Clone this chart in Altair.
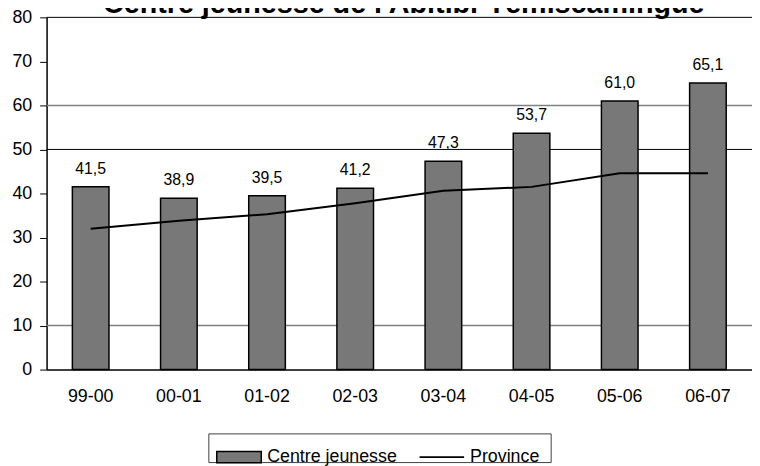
import altair as alt
import pandas as pd

periods = ["99-00", "00-01", "01-02", "02-03", "03-04", "04-05", "05-06", "06-07"]
centre = [41.5, 38.9, 39.5, 41.2, 47.3, 53.7, 61.0, 65.1]
province = [32.0, 33.8, 35.3, 37.8, 40.6, 41.5, 44.6, 44.6]
y_ticks = [0, 10, 20, 30, 40, 50, 60, 70, 80]
grid_black = [80, 50]
grid_gray = [60, 10]
title_text = "Centre jeunesse de l'Abitibi-Témiscamingue"
series_bar = "Centre jeunesse"
series_line = "Province"

FONT = "Liberation Sans"
W, H = 713, 356

df = pd.DataFrame({
    "period": periods,
    "centre": centre,
    "province": province,
    "label": [f"{v:.1f}".replace(".", ",") for v in centre],
    "s1": series_bar,
    "s2": series_line,
})

x_enc = alt.X(
    "period:N", sort=periods,
    scale=alt.Scale(paddingInner=0.58, paddingOuter=0.29),
    axis=alt.Axis(title=None, labelAngle=0, ticks=False, domainColor="black",
                  domainWidth=1.5, labelFontSize=18, labelFont=FONT,
                  labelColor="black", labelPadding=18),
)
y_scale = alt.Scale(domain=[0, 80], nice=False, zero=True)
y_axis = alt.Axis(values=y_ticks, title=None, grid=False, tickSize=7,
                  tickColor="black", domainColor="black", domainWidth=1.5,
                  labelFontSize=18, labelFont=FONT, labelColor="black",
                  labelPadding=8)

base = alt.Chart(df)

grid_g = alt.Chart(pd.DataFrame({"v": grid_gray})).mark_rule(
    color="#808080", strokeWidth=1.5).encode(y=alt.Y("v:Q", scale=y_scale, axis=y_axis))
grid_b = alt.Chart(pd.DataFrame({"v": grid_black})).mark_rule(
    color="black", strokeWidth=1).encode(y=alt.Y("v:Q", scale=y_scale, axis=y_axis))

bars = base.mark_bar(size=37, stroke="black", strokeWidth=1.5).encode(
    x=x_enc,
    y=alt.Y("centre:Q", scale=y_scale, axis=y_axis),
    fill=alt.Fill("s1:N", scale=alt.Scale(domain=[series_bar], range=["#787878"]),
                  legend=alt.Legend(title=None, orient="none", legendX=171, legendY=421,
                                    symbolType="M-1,-0.25H1V0.25H-1Z", symbolSize=2025,
                                    symbolStrokeColor="black", symbolStrokeWidth=1.5,
                                    labelFontSize=18, labelFont=FONT, labelColor="black",
                                    labelOffset=5, padding=0)),
)

labels = base.mark_text(dy=-13, baseline="alphabetic", fontSize=16, font=FONT,
                        color="black").encode(
    x=x_enc, y=alt.Y("centre:Q", scale=y_scale, axis=y_axis), text="label:N")

line = base.mark_line(strokeWidth=2).encode(
    x=x_enc,
    y=alt.Y("province:Q", scale=y_scale, axis=y_axis),
    stroke=alt.Stroke("s2:N", scale=alt.Scale(domain=[series_line], range=["black"]),
                      legend=alt.Legend(title=None, orient="none", legendX=376, legendY=421,
                                        symbolType="stroke", symbolSize=2025,
                                        symbolStrokeWidth=2,
                                        labelFontSize=18, labelFont=FONT,
                                        labelColor="black", labelOffset=5, padding=0)),
)

title = alt.Chart(pd.DataFrame({"t": [title_text]})).mark_text(
    fontSize=29, fontWeight="bold", font=FONT, baseline="alphabetic", align="center",
    color="black").encode(text="t:N", x=alt.value(361), y=alt.value(-4))

legend_box = alt.Chart(pd.DataFrame({"b": [1]})).mark_rect(
    fillOpacity=0, stroke="#404040", strokeWidth=1).encode(
    x=alt.value(164), x2=alt.value(510), y=alt.value(421), y2=alt.value(450))

chart = alt.layer(grid_g, grid_b, bars, line, labels, title, legend_box).properties(
    width=W, height=H,
    autosize=alt.AutoSizeParams(type="none"),
    padding={"left": 39, "top": 7, "right": 0, "bottom": 95},
    background="white",
).configure_view(stroke=None)

chart.save("out.html", embed_options={"renderer": "svg", "actions": False})
